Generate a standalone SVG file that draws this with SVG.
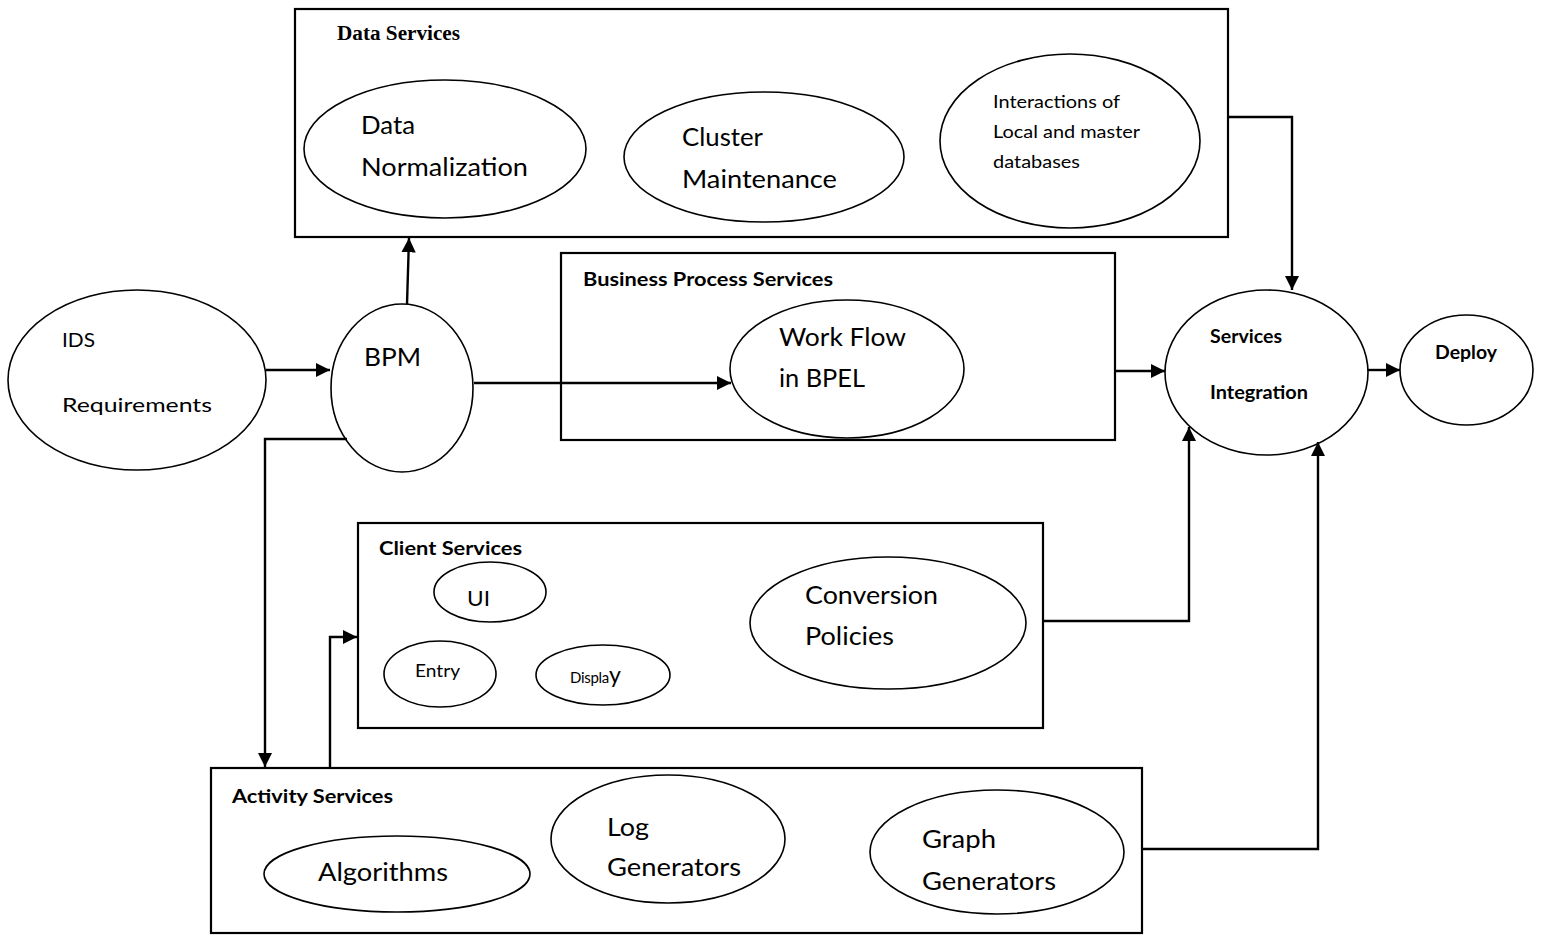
<svg xmlns="http://www.w3.org/2000/svg" width="1541" height="935" viewBox="0 0 1541 935">
  <style>
    .box { fill: none; stroke: #000; stroke-width: 2.2; }
    .node { fill: #fff; stroke: #000; stroke-width: 1.6; }
    .wire { fill: none; stroke: #000; stroke-width: 2.4; }
    .lbl { font-family: Lato, "Open Sans", sans-serif; fill: #000; }
    .big { font-size: 25.5px; }
    .sm { font-size: 20px; }
    .mid { font-size: 18px; }
    .ttl { font-family: Lato, "Open Sans", sans-serif; font-weight: bold; font-size: 19px; }
    .ttl-serif { font-family: "Liberation Serif", serif; font-weight: bold; font-size: 20px; }
  </style>
  <defs>
    <marker id="arrow" viewBox="0 0 10 10" refX="10" refY="5" markerWidth="6" markerHeight="6" markerUnits="strokeWidth" orient="auto">
      <path d="M0,0 L10,5 L0,10 Z" fill="#000"/>
    </marker>
  </defs>
  <rect width="1541" height="935" fill="#fff"/>

  <!-- service containers -->
  <g id="data-services">
    <rect class="box" x="295" y="9" width="933" height="228"/>
    <text class="ttl-serif" x="337" y="40" textLength="123" lengthAdjust="spacingAndGlyphs">Data Services</text>
  </g>
  <g id="business-process-services">
    <rect class="box" x="561" y="253" width="554" height="187"/>
    <text class="ttl" x="583" y="286" textLength="250" lengthAdjust="spacingAndGlyphs">Business Process Services</text>
  </g>
  <g id="client-services">
    <rect class="box" x="358" y="523" width="685" height="205"/>
    <text class="ttl" x="379" y="555" textLength="143" lengthAdjust="spacingAndGlyphs">Client Services</text>
  </g>
  <g id="activity-services">
    <rect class="box" x="211" y="768" width="931" height="165"/>
    <text class="ttl" x="232" y="803" textLength="161" lengthAdjust="spacingAndGlyphs">Activity Services</text>
  </g>

  <!-- process nodes -->
  <g id="ids-requirements">
    <ellipse class="node" cx="137" cy="380" rx="129" ry="90"/>
    <text class="lbl sm" x="62" y="347" textLength="33" lengthAdjust="spacingAndGlyphs">IDS</text>
    <text class="lbl sm" x="62" y="412" textLength="150" lengthAdjust="spacingAndGlyphs">Requirements</text>
  </g>
  <g id="bpm">
    <ellipse class="node" cx="402" cy="388" rx="71" ry="84"/>
    <text class="lbl big" x="364" y="366" textLength="57" lengthAdjust="spacingAndGlyphs">BPM</text>
  </g>
  <g id="data-normalization">
    <ellipse class="node" cx="445" cy="149" rx="141" ry="69"/>
    <text class="lbl big" x="361" y="134" textLength="54" lengthAdjust="spacingAndGlyphs">Data</text>
    <text class="lbl big" x="361" y="176" textLength="167" lengthAdjust="spacingAndGlyphs">Normalization</text>
  </g>
  <g id="cluster-maintenance">
    <ellipse class="node" cx="764" cy="157" rx="140" ry="65"/>
    <text class="lbl big" x="682" y="146" textLength="81" lengthAdjust="spacingAndGlyphs">Cluster</text>
    <text class="lbl big" x="682" y="188" textLength="155" lengthAdjust="spacingAndGlyphs">Maintenance</text>
  </g>
  <g id="db-interactions">
    <ellipse class="node" cx="1070" cy="141" rx="130" ry="87"/>
    <text class="lbl mid" x="993" y="108" textLength="127" lengthAdjust="spacingAndGlyphs">Interactions of</text>
    <text class="lbl mid" x="993" y="138" textLength="147" lengthAdjust="spacingAndGlyphs">Local and master</text>
    <text class="lbl mid" x="993" y="168" textLength="87" lengthAdjust="spacingAndGlyphs">databases</text>
  </g>
  <g id="work-flow">
    <ellipse class="node" cx="847" cy="369" rx="117" ry="69"/>
    <text class="lbl big" x="779" y="346" textLength="127" lengthAdjust="spacingAndGlyphs">Work Flow</text>
    <text class="lbl big" x="779" y="387" textLength="86" lengthAdjust="spacingAndGlyphs">in BPEL</text>
  </g>
  <g id="services-integration">
    <ellipse class="node" cx="1266.5" cy="372.5" rx="101.5" ry="82.5"/>
    <text class="ttl" x="1210" y="343" font-size="18.5" textLength="72" lengthAdjust="spacingAndGlyphs">Services</text>
    <text class="ttl" x="1210" y="399" font-size="18.5" textLength="98" lengthAdjust="spacingAndGlyphs">Integration</text>
  </g>
  <g id="deploy">
    <ellipse class="node" cx="1466.5" cy="370" rx="66.5" ry="55"/>
    <text class="ttl" x="1435" y="359" font-size="18.5" textLength="62" lengthAdjust="spacingAndGlyphs">Deploy</text>
  </g>
  <g id="ui">
    <ellipse class="node" cx="490" cy="592" rx="56" ry="30"/>
    <text class="lbl" font-size="22" x="467" y="606" textLength="23" lengthAdjust="spacingAndGlyphs">UI</text>
  </g>
  <g id="entry">
    <ellipse class="node" cx="440" cy="674" rx="56" ry="33"/>
    <text class="lbl mid" x="415" y="677" textLength="45" lengthAdjust="spacingAndGlyphs">Entry</text>
  </g>
  <g id="display">
    <ellipse class="node" cx="603" cy="675" rx="67" ry="30"/>
    <!-- the last letter is set larger than the rest -->
    <text class="lbl" font-size="15" letter-spacing="-0.3" x="570" y="683">Displa<tspan font-size="23" letter-spacing="0">y</tspan></text>
  </g>
  <g id="conversion-policies">
    <ellipse class="node" cx="888" cy="623" rx="138" ry="66"/>
    <text class="lbl big" x="805" y="604" textLength="133" lengthAdjust="spacingAndGlyphs">Conversion</text>
    <text class="lbl big" x="805" y="645" textLength="89" lengthAdjust="spacingAndGlyphs">Policies</text>
  </g>
  <g id="algorithms">
    <ellipse class="node" cx="397" cy="874" rx="133" ry="38"/>
    <text class="lbl big" x="318" y="881" textLength="130" lengthAdjust="spacingAndGlyphs">Algorithms</text>
  </g>
  <g id="log-generators">
    <ellipse class="node" cx="668" cy="839" rx="117" ry="64"/>
    <text class="lbl big" x="607" y="836" textLength="42" lengthAdjust="spacingAndGlyphs">Log</text>
    <text class="lbl big" x="607" y="876" textLength="134" lengthAdjust="spacingAndGlyphs">Generators</text>
  </g>
  <g id="graph-generators">
    <ellipse class="node" cx="997" cy="852" rx="127" ry="62"/>
    <text class="lbl big" x="922" y="848" textLength="74" lengthAdjust="spacingAndGlyphs">Graph</text>
    <text class="lbl big" x="922" y="890" textLength="134" lengthAdjust="spacingAndGlyphs">Generators</text>
  </g>

  <!-- connectors -->
  <g id="connectors">
    <path class="wire" d="M266,370 H330" marker-end="url(#arrow)"/>
    <path class="wire" d="M407,304 L409,238" marker-end="url(#arrow)"/>
    <path class="wire" d="M474,383 H731" marker-end="url(#arrow)"/>
    <path class="wire" d="M1115,371 H1165" marker-end="url(#arrow)"/>
    <path class="wire" d="M1368,370 H1400" marker-end="url(#arrow)"/>
    <path class="wire" d="M1228,117 H1292 V290" marker-end="url(#arrow)"/>
    <path class="wire" d="M347,439 H265 V767" marker-end="url(#arrow)"/>
    <path class="wire" d="M330,768 V637 H357" marker-end="url(#arrow)"/>
    <path class="wire" d="M1043,621 H1189 V427" marker-end="url(#arrow)"/>
    <path class="wire" d="M1142,849 H1318 V442" marker-end="url(#arrow)"/>
  </g>
</svg>
